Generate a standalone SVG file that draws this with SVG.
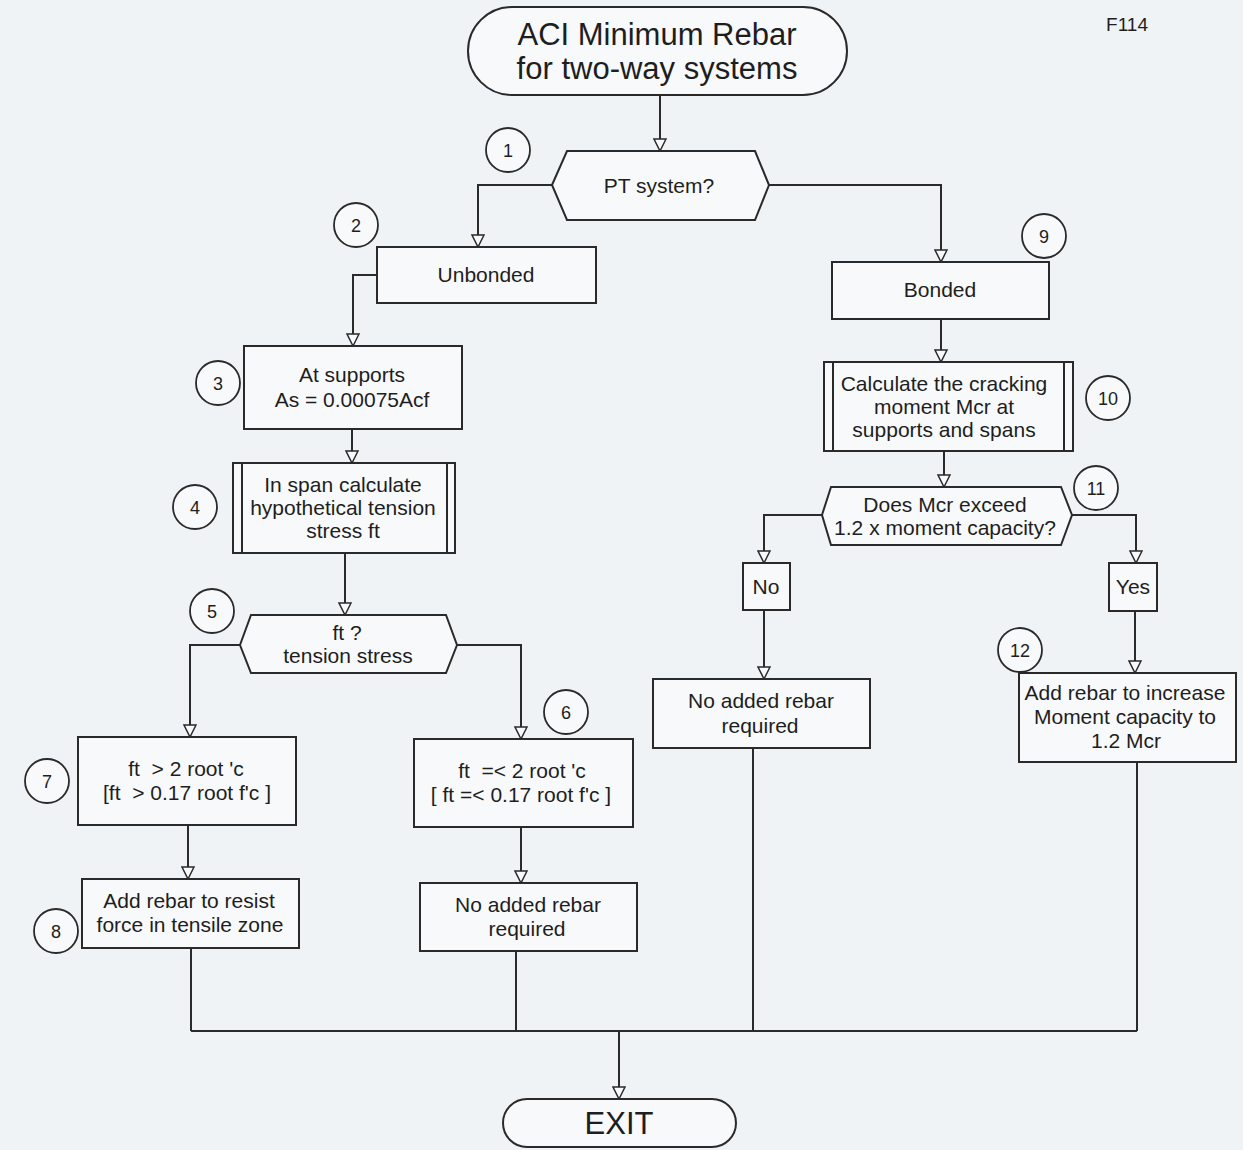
<svg xmlns="http://www.w3.org/2000/svg" width="1243" height="1150" viewBox="0 0 1243 1150">
  <style>
    .shape { fill: #f7f9fa; stroke: #2a2a2a; stroke-width: 2; }
    .inner { fill: none; stroke: #2a2a2a; stroke-width: 2; }
    .badge { fill: #f7f9fa; stroke: #2a2a2a; stroke-width: 1.8; }
    .wire { fill: none; stroke: #2a2a2a; stroke-width: 2; }
    .arrow { marker-end: url(#hollow); }
    text { font-family: "Liberation Sans", Arial, sans-serif; fill: #1e1e1e; text-anchor: middle; white-space: pre; }
    .body { font-size: 21px; }
    .big { font-size: 31px; }
    .num { font-size: 18px; }
    .tag { font-size: 19px; }
  </style>
  <defs>
    <marker id="hollow" markerUnits="userSpaceOnUse" markerWidth="14" markerHeight="14" viewBox="0 0 14 14" refX="13" refY="7" orient="auto">
      <path d="M1,1 L13,7 L1,13 Z" fill="#f7f9fa" stroke="#2a2a2a" stroke-width="1.5"/>
    </marker>
  </defs>

  <rect x="0" y="0" width="1243" height="1150" fill="#eff3f5"/>

  <text x="1127" y="31" class="tag">F114</text>

  <!-- connectors -->
  <g id="connectors">
    <polyline class="wire arrow" points="660,95 660,151"/>
    <polyline class="wire arrow" points="552,185 478,185 478,247"/>
    <polyline class="wire arrow" points="769,185 941,185 941,262"/>
    <polyline class="wire arrow" points="377,275 353,275 353,346"/>
    <polyline class="wire arrow" points="352,429 352,463"/>
    <polyline class="wire arrow" points="345,553 345,615"/>
    <polyline class="wire arrow" points="240,645 190,645 190,737"/>
    <polyline class="wire arrow" points="457,645 521,645 521,739"/>
    <polyline class="wire arrow" points="188,825 188,879"/>
    <polyline class="wire arrow" points="521,827 521,883"/>
    <polyline class="wire arrow" points="941,319 941,362"/>
    <polyline class="wire arrow" points="944,451 944,487"/>
    <polyline class="wire arrow" points="822,515 764,515 764,563"/>
    <polyline class="wire arrow" points="1072,515 1136,515 1136,563"/>
    <polyline class="wire arrow" points="764,610 764,679"/>
    <polyline class="wire arrow" points="1135,611 1135,673"/>
    <polyline class="wire" points="191,948 191,1031"/>
    <polyline class="wire" points="516,951 516,1031"/>
    <polyline class="wire" points="753,748 753,1031"/>
    <polyline class="wire" points="1137,762 1137,1031"/>
    <polyline class="wire" points="191,1031 1137,1031"/>
    <polyline class="wire arrow" points="619,1031 619,1099"/>
  </g>

  <!-- start terminator -->
  <g id="start">
    <rect class="shape" x="468" y="7" width="379" height="88" rx="44" ry="44"/>
    <text x="657" y="45" class="big">ACI Minimum Rebar</text>
    <text x="657" y="79" class="big">for two-way systems</text>
  </g>

  <g id="n1-pt-system">
    <polygon class="shape" points="552,185 567,151 755,151 769,185 755,220 567,220"/>
    <text x="659" y="193" class="body">PT system?</text>
    <circle class="badge" cx="508" cy="150" r="22"/>
    <text x="508" y="157" class="num">1</text>
  </g>

  <g id="n2-unbonded">
    <rect class="shape" x="377" y="247" width="219" height="56"/>
    <text x="486" y="282" class="body">Unbonded</text>
    <circle class="badge" cx="356" cy="225" r="22"/>
    <text x="356" y="232" class="num">2</text>
  </g>

  <g id="n3-supports">
    <rect class="shape" x="244" y="346" width="218" height="83"/>
    <text x="352" y="382" class="body">At supports</text>
    <text x="352" y="407" class="body">As = 0.00075Acf</text>
    <circle class="badge" cx="218" cy="383" r="22"/>
    <text x="218" y="390" class="num">3</text>
  </g>

  <g id="n4-span-stress">
    <rect class="shape" x="233" y="463" width="222" height="90"/>
    <line class="inner" x1="242" y1="463" x2="242" y2="553"/>
    <line class="inner" x1="447" y1="463" x2="447" y2="553"/>
    <text x="343" y="492" class="body">In span calculate</text>
    <text x="343" y="515" class="body">hypothetical tension</text>
    <text x="343" y="538" class="body">stress ft</text>
    <circle class="badge" cx="195" cy="507" r="22"/>
    <text x="195" y="514" class="num">4</text>
  </g>

  <g id="n5-tension-check">
    <polygon class="shape" points="240,645 251,615 446,615 457,645 446,673 251,673"/>
    <text x="347" y="640" class="body">ft ?</text>
    <text x="348" y="663" class="body">tension stress</text>
    <circle class="badge" cx="212" cy="611" r="22"/>
    <text x="212" y="618" class="num">5</text>
  </g>

  <g id="n6-low-tension">
    <rect class="shape" x="414" y="739" width="219" height="88"/>
    <text x="522" y="778" class="body">ft  =&lt; 2 root 'c</text>
    <text x="521" y="802" class="body">[ ft =&lt; 0.17 root f'c ]</text>
    <circle class="badge" cx="566" cy="712" r="22"/>
    <text x="566" y="719" class="num">6</text>
  </g>

  <g id="n7-high-tension">
    <rect class="shape" x="78" y="737" width="218" height="88"/>
    <text x="186" y="776" class="body">ft  &gt; 2 root 'c</text>
    <text x="187" y="800" class="body">[ft  &gt; 0.17 root f'c ]</text>
    <circle class="badge" cx="47" cy="781" r="22"/>
    <text x="47" y="788" class="num">7</text>
  </g>

  <g id="n8-add-rebar">
    <rect class="shape" x="82" y="879" width="217" height="69"/>
    <text x="189" y="908" class="body">Add rebar to resist</text>
    <text x="190" y="932" class="body">force in tensile zone</text>
    <circle class="badge" cx="56" cy="931" r="22"/>
    <text x="56" y="938" class="num">8</text>
  </g>

  <g id="no-rebar-unbonded">
    <rect class="shape" x="420" y="883" width="217" height="68"/>
    <text x="528" y="912" class="body">No added rebar</text>
    <text x="527" y="936" class="body">required</text>
  </g>

  <g id="n9-bonded">
    <rect class="shape" x="832" y="262" width="217" height="57"/>
    <text x="940" y="297" class="body">Bonded</text>
    <circle class="badge" cx="1044" cy="236" r="22"/>
    <text x="1044" y="243" class="num">9</text>
  </g>

  <g id="n10-cracking-moment">
    <rect class="shape" x="824" y="362" width="249" height="89"/>
    <line class="inner" x1="833" y1="362" x2="833" y2="451"/>
    <line class="inner" x1="1064" y1="362" x2="1064" y2="451"/>
    <text x="944" y="391" class="body">Calculate the cracking</text>
    <text x="944" y="414" class="body">moment Mcr at</text>
    <text x="944" y="437" class="body">supports and spans</text>
    <circle class="badge" cx="1108" cy="398" r="22"/>
    <text x="1108" y="405" class="num">10</text>
  </g>

  <g id="n11-capacity-check">
    <polygon class="shape" points="822,515 831,487 1061,487 1072,515 1061,545 831,545"/>
    <text x="945" y="512" class="body">Does Mcr exceed</text>
    <text x="945" y="535" class="body">1.2 x moment capacity?</text>
    <circle class="badge" cx="1096" cy="488" r="22"/>
    <text x="1096" y="495" class="num">11</text>
  </g>

  <g id="answer-no">
    <rect class="shape" x="743" y="563" width="47" height="47"/>
    <text x="766" y="594" class="body">No</text>
  </g>

  <g id="answer-yes">
    <rect class="shape" x="1109" y="563" width="48" height="48"/>
    <text x="1133" y="594" class="body">Yes</text>
  </g>

  <g id="no-rebar-bonded">
    <rect class="shape" x="653" y="679" width="217" height="69"/>
    <text x="761" y="708" class="body">No added rebar</text>
    <text x="760" y="733" class="body">required</text>
  </g>

  <g id="n12-increase-capacity">
    <rect class="shape" x="1019" y="673" width="217" height="89"/>
    <text x="1125" y="700" class="body">Add rebar to increase</text>
    <text x="1125" y="724" class="body">Moment capacity to</text>
    <text x="1126" y="748" class="body">1.2 Mcr</text>
    <circle class="badge" cx="1020" cy="650" r="22"/>
    <text x="1020" y="657" class="num">12</text>
  </g>

  <!-- end terminator -->
  <g id="exit">
    <rect class="shape" x="503" y="1099" width="233" height="48" rx="24" ry="24"/>
    <text x="619" y="1134" class="big">EXIT</text>
  </g>
</svg>
